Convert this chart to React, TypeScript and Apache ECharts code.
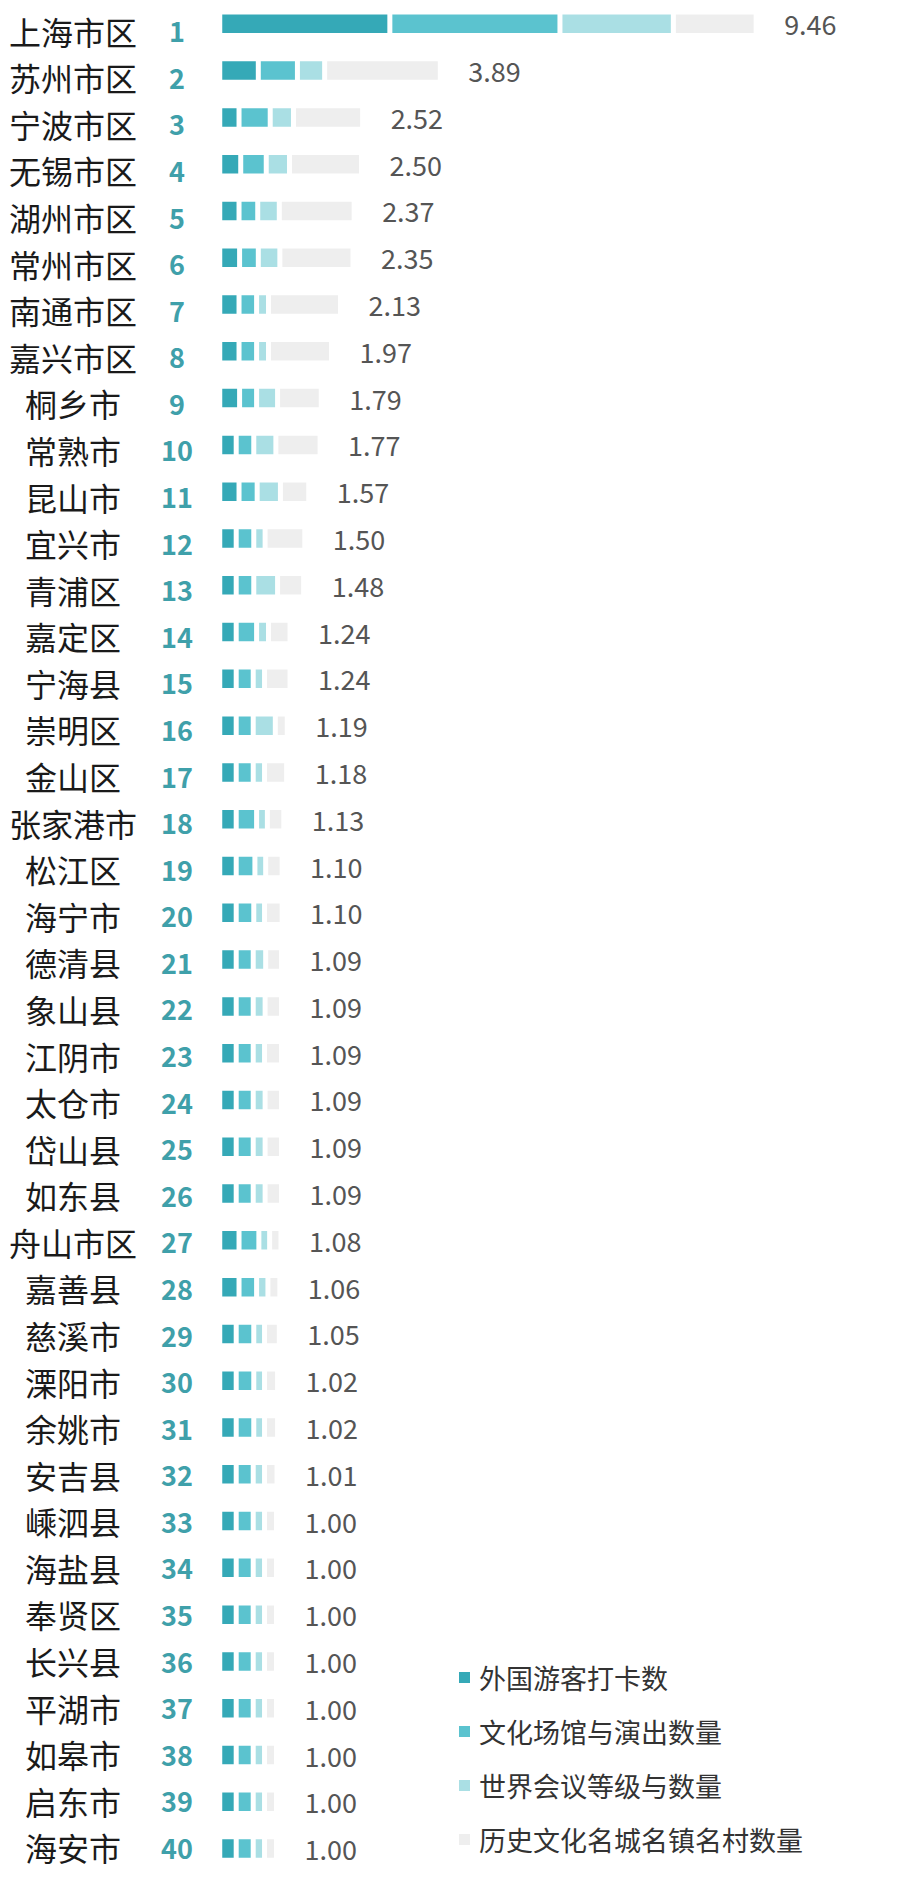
import React, { useEffect, useRef } from "react";
import * as echarts from "echarts";

const categories = [
  "上海市区", "苏州市区", "宁波市区", "无锡市区", "湖州市区", "常州市区", "南通市区", "嘉兴市区",
  "桐乡市", "常熟市", "昆山市", "宜兴市", "青浦区", "嘉定区", "宁海县", "崇明区", "金山区",
  "张家港市", "松江区", "海宁市", "德清县", "象山县", "江阴市", "太仓市", "岱山县", "如东县",
  "舟山市区", "嘉善县", "慈溪市", "溧阳市", "余姚市", "安吉县", "嵊泗县", "海盐县", "奉贤区",
  "长兴县", "平湖市", "如皋市", "启东市", "海安市",
];

const seriesNames = ["外国游客打卡数", "文化场馆与演出数量", "世界会议等级与数量", "历史文化名城名镇名村数量"];

const totals = [
  9.46, 3.89, 2.52, 2.5, 2.37, 2.35, 2.13, 1.97, 1.79, 1.77,
  1.57, 1.5, 1.48, 1.24, 1.24, 1.19, 1.18, 1.13, 1.1, 1.1,
  1.09, 1.09, 1.09, 1.09, 1.09, 1.09, 1.08, 1.06, 1.05, 1.02,
  1.02, 1.01, 1.0, 1.0, 1.0, 1.0, 1.0, 1.0, 1.0, 1.0,
];

const foreignVisitors = [
  3.0, 0.68, 0.34, 0.37, 0.34, 0.35, 0.34, 0.34, 0.35, 0.29,
  0.34, 0.29, 0.29, 0.29, 0.29, 0.29, 0.29, 0.29, 0.29, 0.29,
  0.29, 0.29, 0.29, 0.29, 0.29, 0.29, 0.34, 0.34, 0.29, 0.29,
  0.29, 0.29, 0.29, 0.29, 0.29, 0.29, 0.29, 0.29, 0.29, 0.29,
];

const venues = [
  3.0, 0.69, 0.55, 0.45, 0.33, 0.33, 0.31, 0.31, 0.3, 0.31,
  0.32, 0.31, 0.31, 0.36, 0.3, 0.3, 0.3, 0.36, 0.33, 0.31,
  0.3, 0.3, 0.3, 0.3, 0.3, 0.3, 0.35, 0.31, 0.31, 0.31,
  0.31, 0.3, 0.3, 0.3, 0.3, 0.3, 0.3, 0.3, 0.3, 0.3,
];

const conferences = [
  2.0, 0.48, 0.41, 0.41, 0.38, 0.38, 0.21, 0.21, 0.37, 0.39,
  0.41, 0.2, 0.42, 0.21, 0.2, 0.39, 0.2, 0.19, 0.19, 0.19,
  0.22, 0.21, 0.2, 0.21, 0.21, 0.21, 0.19, 0.2, 0.19, 0.19,
  0.19, 0.2, 0.2, 0.2, 0.2, 0.2, 0.2, 0.2, 0.2, 0.2,
];

const heritage = [
  1.46, 2.04, 1.22, 1.27, 1.32, 1.29, 1.27, 1.11, 0.77, 0.78,
  0.5, 0.7, 0.46, 0.38, 0.45, 0.21, 0.39, 0.29, 0.29, 0.31,
  0.28, 0.29, 0.3, 0.29, 0.29, 0.29, 0.2, 0.21, 0.26, 0.23,
  0.23, 0.22, 0.21, 0.21, 0.21, 0.21, 0.21, 0.21, 0.21, 0.21,
];

const colors = ["#35a9b7", "#5bc3cf", "#aadfe4", "#eeeeee"];
const FONT = '"Noto Sans CJK SC", "Noto Sans", sans-serif';

export default function App() {
  const ref = useRef<HTMLDivElement>(null);

  useEffect(() => {
    if (!ref.current) return;
    const chart = echarts.init(ref.current, undefined, { renderer: "svg" });
    const values = [foreignVisitors, venues, conferences, heritage];

    const series: any[] = values.map((arr, i) => ({
      name: seriesNames[i],
      type: "bar",
      stack: "total",
      xAxisIndex: 0,
      yAxisIndex: 0,
      barWidth: 23.5,
      data: arr,
      itemStyle: { color: colors[i], borderColor: "#ffffff", borderWidth: 2.5 },
      label:
        i === 3
          ? {
              show: true,
              position: "right",
              distance: 28,
              fontFamily: FONT,
              fontSize: 27,
              color: "#555555",
              formatter: (p: any) => totals[p.dataIndex].toFixed(2),
            }
          : { show: false },
      emphasis: { disabled: true },
    }));

    chart.setOption({
      animation: false,
      textStyle: { fontFamily: FONT },
      legend: {
        data: seriesNames,
        orient: "vertical",
        left: 457,
        top: 1664,
        padding: 0,
        itemWidth: 13,
        itemHeight: 13,
        itemGap: 27,
        icon: "rect",
        textStyle: { fontFamily: FONT, fontSize: 27, color: "#333333", padding: [0, 0, 0, 3] },
      },
      grid: [
        { left: 219.75, top: 0.4, width: 567, height: 1871.6 },
        { left: 221, top: 7.4, width: 567, height: 1863.3 },
      ],
      xAxis: [
        { type: "value", gridIndex: 0, min: 0, max: 10, show: false },
        { type: "value", gridIndex: 1, min: 0, max: 10, show: false },
      ],
      yAxis: [
        {
          type: "category",
          gridIndex: 0,
          data: categories,
          inverse: true,
          axisLine: { show: false },
          axisTick: { show: false },
          axisLabel: { show: false },
          splitLine: { show: false },
        },
        {
          type: "category",
          gridIndex: 1,
          data: categories,
          inverse: true,
          axisLine: { show: false },
          axisTick: { show: false },
          splitLine: { show: false },
          axisLabel: {
            margin: 13,
            interval: 0,
            formatter: (value: string, index: number) => `{n|${value}}{r|${index + 1}}`,
            rich: {
              n: { width: 146, align: "center", fontFamily: FONT, fontSize: 32, color: "#1a1a1a" },
              r: { width: 62, align: "center", fontFamily: FONT, fontSize: 27, fontWeight: "bold", color: "#3fa0aa" },
            },
          },
        },
      ],
      series,
    });

    return () => chart.dispose();
  }, []);

  return (
    <div
      ref={ref}
      style={{ position: "absolute", left: 0, top: 0, width: 913, height: 1903, background: "#ffffff" }}
    />
  );
}
